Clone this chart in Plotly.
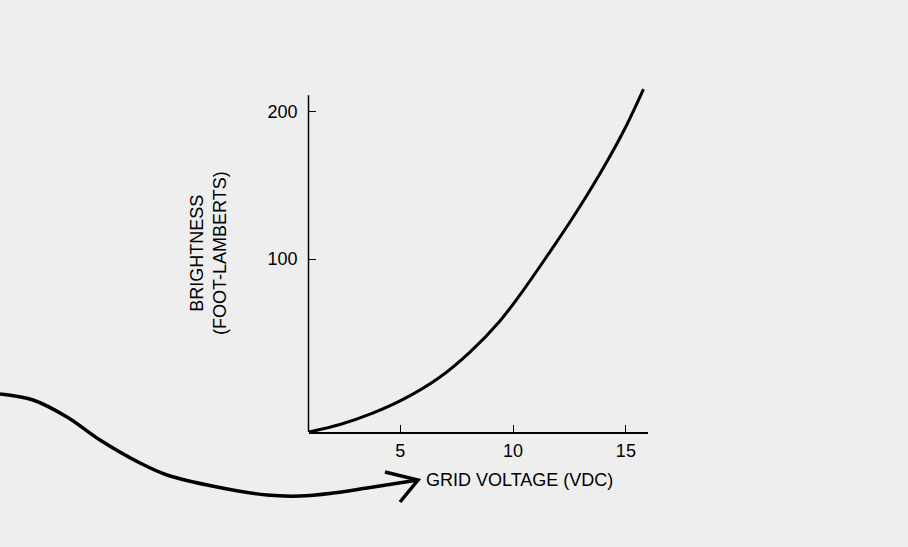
import plotly.graph_objects as go

# Curve (grid voltage in VDC, brightness in foot-lamberts)
voltage = [0.96, 2.33, 3.75, 5.21, 6.67, 8.09, 9.42, 10.46, 11.57, 12.68, 13.79, 14.90, 15.78]
brightness = [-17.4, -12.3, -4.8, 5.4, 18.9, 36.9, 58.0, 79.0, 103.5, 128.9, 156.4, 187.0, 215.5]

x_ticks = [5, 10, 15]
y_ticks = [100, 200]

x_title = "GRID VOLTAGE (VDC)"
y_title = "BRIGHTNESS<br>(FOOT-LAMBERTS)"

# Hand-drawn arrow (page coordinates, 908 x 547 sheet)
arrow_x = [0, 33, 67, 100, 140, 167, 217, 267, 300, 333, 367, 418]
arrow_y = [394, 400, 417, 440, 463, 475, 487, 495, 496, 493, 488, 480]
barb_x = [385, 418, 400]
barb_y = [472, 480, 502]

FONT = "Liberation Sans, Arial, Helvetica, sans-serif"
FS = 18
W, H = 908, 547
x_left_px, x_right_px = 308.5, 648
y_bottom_px, y_top_px = 432, 84

fig = go.Figure()

fig.add_trace(go.Scatter(
    x=voltage, y=brightness, mode="lines",
    line=dict(color="black", width=3, shape="spline", smoothing=1.0),
    hoverinfo="skip", showlegend=False,
))

fig.add_trace(go.Scatter(
    x=arrow_x, y=arrow_y, xaxis="x2", yaxis="y2", mode="lines",
    line=dict(color="black", width=3.5, shape="spline", smoothing=1.0),
    hoverinfo="skip", showlegend=False,
))
fig.add_trace(go.Scatter(
    x=barb_x, y=barb_y, xaxis="x2", yaxis="y2", mode="lines",
    line=dict(color="black", width=3.5),
    hoverinfo="skip", showlegend=False,
))

fig.update_layout(
    width=W, height=H, autosize=False,
    margin=dict(l=0, r=0, t=0, b=0),
    paper_bgcolor="#eeeeee", plot_bgcolor="rgba(0,0,0,0)",
    font=dict(family=FONT, size=FS, color="black"),
    xaxis=dict(
        domain=[x_left_px / W, x_right_px / W],
        range=[0.935, 15.98],
        showline=True, linecolor="black", linewidth=1.5,
        ticks="inside", ticklen=7, tickwidth=1.2, tickcolor="black",
        tickvals=x_ticks, ticktext=[str(v) for v in x_ticks],
        showgrid=False, zeroline=False,
        tickfont=dict(family=FONT, size=FS, color="black"),
        ticklabelstandoff=2,
    ),
    yaxis=dict(
        domain=[(H - y_bottom_px) / H, (H - y_top_px) / H],
        range=[-17.4, 218.9],
        showline=False,
        ticks="inside", ticklen=7, tickwidth=1.2, tickcolor="black",
        tickvals=y_ticks, ticktext=[str(v) for v in y_ticks],
        showgrid=False, zeroline=False,
        tickfont=dict(family=FONT, size=FS, color="black"),
        ticklabelstandoff=10,
    ),
    xaxis2=dict(domain=[0, 1], range=[0, W], visible=False,
                anchor="y2", fixedrange=True),
    yaxis2=dict(domain=[0, 1], range=[H, 0], visible=False,
                anchor="x2", fixedrange=True),
    shapes=[dict(
        type="line", xref="x domain", yref="y", x0=0, x1=0, y0=-17.4, y1=211.3,
        line=dict(color="black", width=1.5),
    )],
    annotations=[
        dict(text=y_title, xref="x2", yref="y2", x=208, y=253, textangle=-90,
             showarrow=False, font=dict(family=FONT, size=FS, color="black"),
             xanchor="center", yanchor="middle", align="center"),
        dict(text=x_title, xref="x2", yref="y2", x=519.5, y=480,
             showarrow=False, font=dict(family=FONT, size=FS, color="black"),
             xanchor="center", yanchor="middle"),
    ],
)

fig.write_html("out.html", config={"displayModeBar": False},
               post_script="document.body.style.margin='0';")
